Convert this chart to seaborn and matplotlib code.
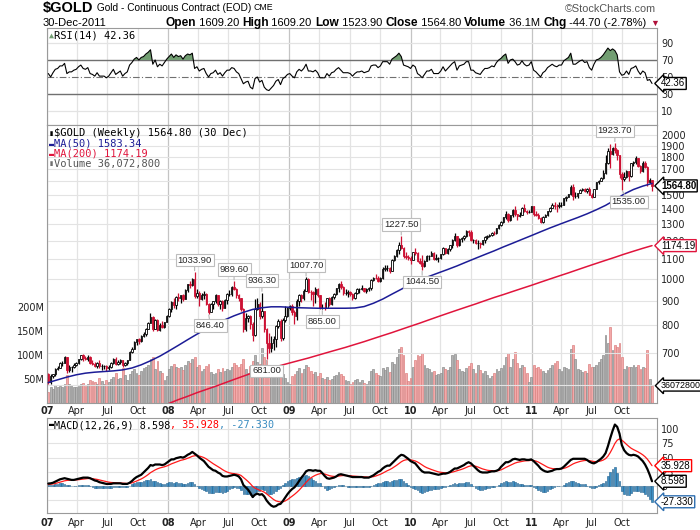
import numpy as np
import pandas as pd
import seaborn as sns
import matplotlib
matplotlib.use("Agg")
import matplotlib.pyplot as plt
from matplotlib.ticker import FixedLocator, NullLocator

# ---- weekly data (Jan 2007 .. Dec 2011) ----
weeks = pd.date_range("2007-01-05", "2011-12-30", freq="W-FRI")
first_open = 632.0

closes = [
    609, 628, 632, 648, 652, 667, 668, 686, 646, 654,
    655, 663, 669, 680, 693, 684, 681, 688, 669, 666,
    659, 669, 657, 657, 657, 651, 656, 667, 682, 665,
    672, 677, 660, 668, 676, 705, 716, 738, 748, 742,
    760, 766, 788, 808, 833, 786, 820, 784, 801, 794,
    813, 838,
    866, 897, 882, 917, 912, 924, 909, 948, 975, 972,
    1002, 920, 937, 908, 926, 930, 886, 855, 886, 898,
    926, 886, 899, 871, 904, 930, 932, 963, 955, 927,
    912, 864, 787, 830, 836, 805, 764, 866, 885, 837,
    858, 785, 736, 718, 735, 750, 798, 816, 752, 823,
    838, 872,
    878, 853, 838, 900, 928, 913, 945, 1002, 941, 940,
    930, 953, 925, 869, 871, 870, 914, 885, 917, 930,
    958, 978, 962, 937, 937, 940, 931, 912, 937, 952,
    954, 956, 946, 953, 956, 995, 1006, 1003, 991, 1004,
    1051, 1052, 1056, 1041, 1096, 1117, 1148, 1180, 1162, 1118,
    1112, 1105,
    1096, 1138, 1131, 1092, 1081, 1065, 1090, 1117, 1118, 1133,
    1103, 1104, 1105, 1126, 1162, 1136, 1158, 1179, 1208, 1229,
    1177, 1213, 1220, 1229, 1257, 1256, 1208, 1209, 1189, 1189,
    1181, 1204, 1226, 1228, 1237, 1247, 1246, 1275, 1297, 1317,
    1346, 1370, 1326, 1358, 1394, 1366, 1352, 1362, 1406, 1385,
    1378, 1380, 1421,
    1369, 1361, 1342, 1318, 1348, 1360, 1388, 1409, 1429, 1421,
    1418, 1428, 1429, 1474, 1486, 1504, 1556, 1491, 1493, 1511,
    1536, 1542, 1529, 1540, 1501, 1485, 1542, 1592, 1602, 1628,
    1663, 1744, 1851, 1827, 1877, 1857, 1813, 1657, 1620, 1636,
    1683, 1642, 1744, 1755, 1788, 1725, 1684, 1744, 1712, 1598,
    1609.5, 1564.8,
]

highs = [
    636, 632, 634, 652, 657, 670, 673, 690, 689, 661,
    659, 667, 672, 682, 694, 697, 690, 693, 691, 678,
    670, 672, 678, 664, 661, 660, 660, 670, 685, 686,
    677, 680, 678, 672, 679, 708, 722, 742, 750, 752,
    763, 776, 790, 815, 848, 838, 827, 825, 808, 816,
    815, 843,
    870, 901, 915, 920, 935, 926, 930, 952, 977, 990,
    1006, 1033.9, 951, 945, 934, 945, 935, 889, 890, 901,
    931, 928, 905, 903, 907, 935, 948, 967, 989.6, 960,
    930, 915, 868, 850, 840, 840, 812, 910, 915, 895,
    936.3, 858, 790, 770, 762, 760, 800, 826, 825, 830,
    880, 875,
    882, 885, 860, 910, 930, 932, 952, 1007.7, 1005, 950,
    945, 962, 960, 928, 888, 895, 915, 916, 920, 934,
    960, 981, 990, 966, 951, 947, 944, 934, 940, 958,
    960, 970, 958, 956, 963, 1000, 1010, 1025, 1016, 1008,
    1062, 1070, 1072, 1062, 1101, 1120, 1155, 1195, 1227.5, 1165,
    1140, 1125,
    1115, 1140, 1163, 1140, 1105, 1120, 1095, 1122, 1125, 1145,
    1138, 1129, 1110, 1130, 1165, 1163, 1160, 1180, 1215, 1250,
    1232, 1217, 1225, 1235, 1263, 1266, 1263, 1215, 1215, 1205,
    1195, 1207, 1229, 1235, 1240, 1255, 1260, 1278, 1300, 1320,
    1350, 1388, 1375, 1362, 1398, 1424, 1370, 1380, 1415, 1432,
    1395, 1392, 1424,
    1424, 1389, 1375, 1345, 1355, 1369, 1390, 1417, 1440, 1445,
    1432, 1448, 1446, 1476, 1490, 1508, 1575, 1577, 1517, 1513,
    1540, 1550, 1550, 1548, 1558, 1510, 1545, 1595, 1610, 1632,
    1685, 1818, 1878, 1912, 1890, 1923.7, 1865, 1813, 1675, 1675,
    1687, 1683, 1750, 1765, 1803, 1791, 1730, 1760, 1760, 1718,
    1629, 1609.5,
]

lows = [
    603, 605, 622, 628, 645, 652, 659, 667, 635, 641,
    640, 651, 658, 666, 678, 675, 677, 674, 664, 660,
    656, 653, 652, 646, 650, 642, 646, 653, 665, 662,
    662, 666, 654, 658, 663, 676, 700, 714, 727, 731,
    738, 756, 760, 786, 808, 778, 785, 780, 778, 789,
    790, 812,
    832, 855, 868, 867, 900, 889, 900, 908, 940, 960,
    967, 912, 915, 878, 903, 910, 882, 846.4, 852, 865,
    892, 877, 865, 858, 869, 885, 920, 923, 950, 912,
    899, 856, 775, 780, 813, 785, 741, 760, 860, 826,
    830, 775, 681, 700, 705, 710, 720, 790, 742, 745,
    815, 832,
    860, 840, 805, 820, 880, 895, 904, 945, 936, 905,
    880, 890, 916, 866, 865, 862, 868, 880, 883, 908,
    925, 940, 955, 926, 925, 917, 921, 905, 910, 932,
    937, 950, 940, 935, 944, 950, 990, 998, 985, 986,
    1002, 1040, 1040, 1030, 1040, 1090, 1110, 1130, 1158, 1105,
    1100, 1095,
    1075, 1095, 1125, 1085, 1075, 1044.5, 1058, 1090, 1095, 1115,
    1097, 1098, 1085, 1103, 1125, 1130, 1130, 1145, 1163, 1200,
    1165, 1170, 1195, 1205, 1225, 1230, 1200, 1190, 1185, 1157,
    1160, 1180, 1190, 1215, 1223, 1232, 1235, 1242, 1270, 1290,
    1310, 1335, 1318, 1320, 1350, 1357, 1330, 1345, 1358, 1380,
    1365, 1372, 1380,
    1354, 1357, 1337, 1309, 1312, 1346, 1357, 1381, 1408, 1400,
    1381, 1410, 1416, 1425, 1452, 1480, 1500, 1462, 1478, 1476,
    1510, 1525, 1520, 1515, 1496, 1478, 1483, 1541, 1576, 1600,
    1620, 1655, 1737, 1702, 1815, 1837, 1769, 1629, 1535, 1600,
    1625, 1604, 1630, 1720, 1740, 1715, 1667, 1675, 1703, 1564,
    1590, 1523.9,
]

# weekly volume, millions
volume_m = [
    22, 33, 30, 38, 34, 36, 33, 40, 58, 40,
    38, 34, 33, 36, 40, 42, 36, 40, 48, 45,
    44, 40, 52, 46, 40, 48, 44, 50, 55, 62,
    50, 52, 72, 58, 48, 60, 66, 70, 62, 58,
    66, 72, 75, 80, 92, 96, 70, 88, 66, 62,
    48, 56,
    70, 78, 82, 76, 72, 74, 68, 80, 88, 84,
    92, 96, 76, 80, 66, 70, 78, 82, 64, 60,
    62, 70, 64, 72, 66, 70, 68, 76, 84, 80,
    74, 82, 92, 70, 62, 78, 88, 100, 86, 82,
    115, 96, 90, 72, 66, 62, 70, 64, 68, 60,
    52, 44,
    40, 56, 60, 66, 72, 62, 70, 80, 74, 66,
    60, 64, 56, 62, 52, 50, 54, 48, 50, 56,
    58, 64, 60, 56, 48, 46, 40, 44, 48, 50,
    44, 48, 42, 40, 46, 66, 70, 62, 58, 56,
    72, 68, 74, 64, 86, 82, 96, 112, 116, 100,
    62, 46,
    52, 76, 90, 100, 98, 104, 80, 72, 70, 64,
    66, 58, 60, 62, 74, 70, 68, 76, 100, 102,
    90, 70, 66, 64, 72, 78, 84, 70, 62, 80,
    68, 62, 66, 58, 52, 56, 62, 70, 66, 72,
    80, 96, 104, 76, 92, 106, 84, 72, 80, 76,
    62, 44, 54,
    80, 72, 76, 70, 66, 62, 68, 72, 80, 84,
    88, 70, 66, 76, 72, 70, 112, 120, 92, 70,
    68, 64, 66, 62, 82, 74, 76, 80, 86, 92,
    100, 141, 126, 158, 110, 120, 116, 124, 96, 70,
    78, 76, 74, 80, 76, 80, 70, 76, 72, 110,
    50, 36.0728,
]

rsi14 = [
    54, 50, 55, 59, 60, 63, 63, 66, 54, 56,
    56, 58, 59, 62, 64, 60, 59, 61, 54, 53,
    51, 55, 51, 51, 51, 49, 51, 55, 59, 53,
    55, 57, 51, 54, 56, 64, 67, 71, 73, 70,
    73, 74, 77, 79, 82, 65, 70, 62, 65, 63,
    67, 71,
    74, 77, 73, 76, 74, 75, 71, 75, 77, 76,
    78, 60, 62, 57, 59, 60, 54, 50, 54, 55,
    58, 53, 55, 51, 55, 58, 58, 61, 60, 56,
    54, 48, 42, 44, 45, 38, 36, 48, 50, 44,
    46, 38, 35, 34, 37, 40, 45, 47, 41, 48,
    50, 53,
    54, 51, 49, 56, 59, 57, 60, 65, 57, 57,
    56, 58, 55, 49, 49, 49, 54, 51, 55, 56,
    59, 61, 58, 55, 55, 55, 54, 51, 54, 56,
    56, 57, 55, 56, 57, 63, 64, 64, 61, 63,
    68, 68, 68, 65, 71, 73, 75, 78, 74, 64,
    63, 62,
    60, 64, 62, 54, 52, 49, 53, 57, 57, 59,
    54, 54, 54, 57, 62, 57, 60, 63, 66, 68,
    58, 63, 64, 65, 68, 68, 58, 58, 55, 54,
    53, 57, 60, 60, 61, 63, 62, 67, 70, 72,
    75, 77, 66, 70, 71, 68, 64, 65, 69, 65,
    63, 64, 68,
    58, 56, 53, 50, 55, 57, 61, 63, 65, 63,
    62, 64, 64, 69, 71, 73, 78, 65, 65, 67,
    69, 70, 67, 68, 61, 58, 65, 70, 71, 73,
    76, 80, 84, 81, 83, 81, 76, 56, 52, 53,
    57, 53, 60, 61, 63, 57, 53, 57, 55, 46,
    47, 42.36,
]

macd_line = [
    4.6, 5, 6, 8, 10, 12, 13, 14, 13, 12,
    11, 11, 12, 13, 14, 15, 15, 15, 14, 12,
    10, 9, 7, 6, 5, 4, 4, 4, 5, 5,
    5, 5, 4, 4, 4, 6, 9, 13, 16, 18,
    20, 24, 28, 32, 37, 36, 38, 38, 38, 37,
    38, 41, 44, 47, 47, 49, 50, 51, 50, 52,
    55, 57, 60, 57, 54, 50, 47, 44, 39, 34,
    31, 28, 27, 24, 22, 18, 17, 17, 18, 19,
    20, 19, 17, 12, 2, -2, -6, -12, -19, -15,
    -13, -15, -14, -18, -25, -30, -34, -36, -35, -32,
    -31, -26, -20, -14, -9, -5, -2, 3, 9, 15,
    20, 26, 28, 28, 27, 28, 27, 27, 23, 18,
    14, 13, 14, 15, 17, 20, 21, 20, 19, 18,
    17, 16, 16, 16, 16, 16, 15, 15, 15, 17,
    19, 22, 25, 27, 31, 34, 36, 36, 40, 44,
    48, 52, 55, 54, 51, 48, 44, 42, 40, 35,
    30, 26, 24, 24, 24, 23, 22, 21, 20, 21,
    22, 22, 23, 25, 28, 31, 31, 33, 35, 37,
    40, 42, 40, 36, 32, 28, 25, 24, 24, 24,
    25, 26, 26, 27, 29, 34, 38, 42, 42, 44,
    47, 48, 47, 46, 47, 47, 46, 46, 47, 44,
    40, 36, 31, 28, 26, 25, 26, 27, 29, 30,
    30, 31, 34, 38, 42, 46, 48, 48, 48, 48,
    48, 48, 46, 43, 41, 40, 42, 45, 48, 52,
    58, 70, 84, 97, 108, 104, 92, 72, 63, 58,
    55, 54, 55, 54, 52, 48, 44, 38, 30, 20,
    8.598,
]

macd_signal = [
    3.0, 3.4, 3.9, 4.7, 5.8, 7.0, 8.2, 9.4, 10.1, 10.5,
    10.6, 10.7, 11.0, 11.4, 11.9, 12.5, 13.0, 13.4, 13.5, 13.2,
    12.6, 11.9, 10.9, 9.9, 8.9, 7.9, 7.1, 6.5, 6.2, 6.0,
    5.8, 5.6, 5.3, 5.0, 4.8, 5.0, 5.8, 7.3, 9.0, 10.8,
    12.6, 14.9, 17.5, 20.4, 23.7, 26.2, 28.5, 30.4, 31.9, 32.9,
    34.0, 35.4, 37.1, 39.1, 40.7, 42.3, 43.9, 45.3, 46.2, 47.4,
    48.9, 50.5, 52.4, 53.3, 53.5, 52.8, 51.6, 50.1, 47.9, 45.1,
    42.3, 39.4, 37.0, 34.4, 31.9, 29.1, 26.7, 24.8, 23.4, 22.5,
    22.0, 21.4, 20.5, 18.8, 15.4, 11.9, 8.3, 4.3, -0.4, -3.3,
    -5.3, -7.2, -8.6, -10.5, -13.4, -16.7, -20.2, -23.3, -25.7, -26.9,
    -27.7, -27.4, -25.9, -23.5, -20.6, -17.5, -14.4, -10.9, -7.0, -2.6,
    1.9, 6.7, 11.0, 14.4, 16.9, 19.1, 20.7, 22.0, 22.2, 21.3,
    19.9, 18.5, 17.6, 17.1, 17.1, 17.7, 18.3, 18.7, 18.7, 18.6,
    18.3, 17.8, 17.5, 17.2, 16.9, 16.8, 16.4, 16.1, 15.9, 16.1,
    16.7, 17.8, 19.2, 20.8, 22.8, 25.1, 27.2, 29.0, 31.2, 33.8,
    36.6, 39.7, 42.7, 45.0, 46.2, 46.6, 46.1, 45.3, 44.2, 42.4,
    39.9, 37.1, 34.5, 32.4, 30.7, 29.2, 27.7, 26.4, 25.1, 24.3,
    23.8, 23.5, 23.4, 23.7, 24.6, 25.8, 26.9, 28.1, 29.5, 31.0,
    32.8, 34.6, 35.7, 35.8, 35.0, 33.6, 31.9, 30.3, 29.1, 28.0,
    27.4, 27.2, 26.9, 26.9, 27.4, 28.7, 30.6, 32.8, 34.7, 36.5,
    38.6, 40.5, 41.8, 42.6, 43.5, 44.2, 44.6, 44.8, 45.3, 45.0,
    44.0, 42.4, 40.1, 37.7, 35.4, 33.3, 31.8, 30.9, 30.5, 30.4,
    30.3, 30.5, 31.2, 32.5, 34.4, 36.7, 39.0, 40.8, 42.2, 43.4,
    44.3, 45.0, 45.2, 44.8, 44.0, 43.2, 43.0, 43.4, 44.3, 45.8,
    48.3, 52.6, 58.9, 66.5, 74.8, 80.6, 82.9, 80.7, 77.2, 73.3,
    69.7, 66.5, 64.2, 62.2, 60.1, 57.7, 55.0, 51.6, 47.3, 41.8,
    35.928,
]

# moving averages, read every 4th week
ma_dates = weeks[::4]
ma50 = [
    608, 616, 624, 631, 636, 639, 641, 643, 646, 652,
    662, 675, 690, 708, 727, 747, 767, 787, 805, 822,
    838, 852, 864, 871, 875, 875, 873, 871, 870, 869,
    869, 869, 869, 870, 876, 890, 908, 930, 952, 975,
    995, 1013, 1030, 1047, 1065, 1085, 1105, 1125, 1145, 1167,
    1188, 1210, 1232, 1255, 1278, 1300, 1322, 1344, 1368, 1395,
    1425, 1462, 1505, 1538, 1563, 1583.34,
]
ma200 = [
    np.nan, np.nan, np.nan, np.nan, np.nan, np.nan, np.nan, np.nan, np.nan, np.nan,
    525, 533, 541, 550, 560, 569, 579, 588, 597, 607,
    617, 627, 637, 645, 652, 660, 668, 676, 684, 693,
    702, 711, 720, 730, 740, 751, 762, 773, 785, 797,
    809, 822, 835, 848, 861, 874, 887, 901, 915, 928,
    942, 956, 970, 985, 1000, 1015, 1030, 1046, 1062, 1078,
    1094, 1110, 1127, 1143, 1159, 1174.19,
]

# swing labels: (week index, label)
peak_labels = [(63, "1033.90"), (80, "989.60"), (92, "936.30"),
               (111, "1007.70"), (152, "1227.50"), (244, "1923.70")]
trough_labels = [(69, "846.40"), (94, "681.00"), (118, "865.00"),
                 (161, "1044.50"), (247, "1535.00")]

for arr in (closes, highs, lows, volume_m, rsi14, macd_line, macd_signal):
    assert len(arr) == len(weeks), len(arr)

# ---- derived columns ----
c = np.array(closes, float)
o = np.array([first_open] + closes[:-1], float)
hi = np.array(highs, float)
lo = np.array(lows, float)
vol = np.array(volume_m) * 1e6
rsi = np.array(rsi14, float)
macd = np.array(macd_line, float)
sig = np.array(macd_signal, float)
hist = macd - sig

RED = "#cc1133"
BLUE = "#1c1c96"
MA_RED = "#e0143c"
GRID = "#e3e3e3"
YEARGRID = "#c4c4c4"
SPINE = "#9a9a9a"
HIST = "#3d8fc4"
GREEN = "#729e72"
MONO = ["DejaVu Sans Mono", "DejaVu Sans"]
ARIAL = ["Liberation Sans", "DejaVu Sans"]

sns.set_theme(style="white")
plt.rcParams["font.family"] = ["DejaVu Sans"]
plt.rcParams["axes.linewidth"] = 0.8

W, H = 700, 530
fig = plt.figure(figsize=(7, 5.3), dpi=100)
fig.patch.set_facecolor("white")


def panel(top, bottom):
    return fig.add_axes([47 / W, 1 - bottom / H, 610 / W, (bottom - top) / H])


ax_rsi = panel(28, 125)
ax_vol = panel(125, 403)
ax_px = panel(125, 403)
ax_px.patch.set_visible(False)
ax_macd = panel(418, 513)

x0, x1 = pd.Timestamp("2007-01-01"), pd.Timestamp("2012-01-14")
quarters = pd.date_range("2007-01-01", "2011-10-01", freq="QS")
qlabels = [f"{d.year % 100:02d}" if d.month == 1 else d.strftime("%b") for d in quarters]

for ax in (ax_rsi, ax_vol, ax_px, ax_macd):
    ax.set_xlim(x0, x1)
    ax.set_xticks(quarters)
    ax.set_xticklabels(qlabels)
    ax.tick_params(length=0, labelsize=7, labelcolor="#222222")
    for sp in ax.spines.values():
        sp.set_color(SPINE)
        sp.set_linewidth(0.8)
    if ax is not ax_px:
        for d in quarters:
            ax.axvline(d, color=YEARGRID if d.month == 1 else GRID, lw=0.9, zorder=0)

for ax in (ax_rsi, ax_vol):
    ax.tick_params(axis="x", labelbottom=False)
for ax in (ax_px, ax_macd):
    ax.tick_params(axis="x", labelbottom=True, pad=2.5)
    for lab in ax.get_xticklabels():
        if lab.get_text().isdigit():
            lab.set_fontweight("bold")
for sp in ax_vol.spines.values():
    sp.set_visible(False)

# ---- RSI panel ----
ax_rsi.set_ylim(-6.5, 107.6)
ax_rsi.yaxis.tick_right()
ax_rsi.set_yticks([10, 30, 50, 70, 90])
ax_rsi.tick_params(axis="y", pad=3)
for lvl in (10, 90):
    ax_rsi.axhline(lvl, color=GRID, lw=0.9, zorder=0)
for lvl in (30, 70):
    ax_rsi.axhline(lvl, color="#707070", lw=1.0, zorder=1)
ax_rsi.axhline(50, color="#707070", lw=0.8, dashes=(6, 2, 1, 2), zorder=1)
ax_rsi.fill_between(weeks, rsi, 70, where=rsi >= 70, interpolate=True,
                    color=GREEN, lw=0, zorder=2)
sns.lineplot(x=weeks, y=rsi, ax=ax_rsi, color="black", lw=0.8, zorder=3)

# ---- volume (left scale) ----
vup = c >= o
ax_vol.bar(weeks, vol, width=5.5, color=np.where(vup, "#b3b3b3", "#f3a9a9"),
           edgecolor=np.where(vup, "#8e8e8e", "#dc8282"), linewidth=0.5, zorder=2)
ax_vol.set_ylim(0, 579e6)
ax_vol.set_yticks([50e6, 100e6, 150e6, 200e6])
ax_vol.set_yticklabels(["50M", "100M", "150M", "200M"])
ax_vol.tick_params(axis="y", pad=2)

# ---- price panel ----
ax_px.set_yscale("log")
ax_px.set_ylim(551, 2097)
pticks = [600, 700, 800, 900, 1000, 1100, 1200, 1300, 1400, 1500, 1600, 1700, 1800, 1900, 2000]
hidden = {600, 1600}  # covered by the value tags on the reference
ax_px.yaxis.set_major_locator(FixedLocator(pticks))
ax_px.yaxis.set_minor_locator(NullLocator())
ax_px.set_yticklabels(["" if p in hidden else str(p) for p in pticks])
ax_px.yaxis.tick_right()
ax_px.tick_params(axis="y", pad=3, length=0)
ax_px.set_axisbelow(True)
ax_px.grid(axis="y", color=GRID, lw=0.8)

up = c >= o
edge = np.where(up, "black", RED)
face = np.where(c > o, "white", edge)
ax_px.vlines(weeks, lo, hi, colors=edge, lw=0.9, zorder=3)
ax_px.bar(weeks, np.abs(c - o), bottom=np.minimum(o, c), width=4.2,
          color=face, edgecolor=edge, linewidth=0.6, zorder=4)
sns.lineplot(x=ma_dates, y=ma50, ax=ax_px, color=BLUE, lw=1.1, zorder=5)
sns.lineplot(x=ma_dates, y=ma200, ax=ax_px, color=MA_RED, lw=1.1, zorder=5)

nudge = {"1535.00": 7, "846.40": 2}
box = dict(boxstyle="square,pad=0.2", fc="white", ec="#bdbdbd", lw=0.8)
arrow = dict(arrowstyle="-", color="#b5b5b5", lw=0.8, shrinkA=0, shrinkB=1)
for i, lab in peak_labels:
    ax_px.annotate(lab, xy=(weeks[i], hi[i]), xytext=(nudge.get(lab, 0), 12),
                   textcoords="offset pixels", ha="center", va="center",
                   fontsize=6.8, family=ARIAL, bbox=box, arrowprops=arrow, zorder=7)
for i, lab in trough_labels:
    ax_px.annotate(lab, xy=(weeks[i], lo[i]), xytext=(nudge.get(lab, 0), -12),
                   textcoords="offset pixels", ha="center", va="center",
                   fontsize=6.8, family=ARIAL, bbox=box, arrowprops=arrow, zorder=7)

# ---- MACD panel ----
ax_macd.set_ylim(-47, 119.5)
ax_macd.yaxis.tick_right()
ax_macd.set_yticks([-25, 0, 25, 50, 75, 100])
ax_macd.set_yticklabels(["", "0", "25", "50", "75", "100"])
ax_macd.tick_params(axis="y", pad=3)
ax_macd.tick_params(axis="x", pad=3.5)
ax_macd.set_axisbelow(True)
ax_macd.grid(axis="y", color=GRID, lw=0.8)
ax_macd.bar(weeks, hist, width=5, color=HIST, edgecolor="#205f8c", linewidth=0.4, zorder=2)
sns.lineplot(x=weeks, y=sig, ax=ax_macd, color="#ff1a1a", lw=0.9, zorder=3)
sns.lineplot(x=weeks, y=macd, ax=ax_macd, color="black", lw=1.6, zorder=4)

for ax in (ax_rsi, ax_vol, ax_px, ax_macd):
    ax.set_xlabel("")
    ax.set_ylabel("")


# ---- right-hand value tags ----
def tag(ax, yval, text, ec, weight="normal", ycoords="data", size=7):
    ax.annotate(text, xy=(1, yval), xycoords=("axes fraction", ycoords),
                xytext=(4, 0), textcoords="offset pixels", ha="left", va="center",
                fontsize=size, fontweight=weight, color="black", family=ARIAL,
                annotation_clip=False, zorder=10,
                bbox=dict(boxstyle="larrow,pad=0.1", fc="white", ec=ec, lw=1.0))


tag(ax_rsi, rsi[-1], f"{rsi[-1]:.2f}", "black")
tag(ax_px, c[-1], f"{c[-1]:.2f}", "black", weight="bold")
tag(ax_px, ma200[-1], f"{ma200[-1]:.2f}", MA_RED)
tag(ax_px, vol[-1], f"{vol[-1]:.0f}", "black", ycoords=ax_vol.transData, size=6.4)
tag(ax_macd, sig[-1], f"{sig[-1]:.3f}", "red")
tag(ax_macd, macd[-1], f"{macd[-1]:.3f}", "black")
tag(ax_macd, hist[-1], f"{hist[-1]:.3f}", "#2f6fb0")


# ---- legends and header: pieces chained left to right ----
def chain(ax, dx, dy, parts, size, family):
    s, col, wt, sz = parts[0]
    t = ax.annotate(s, xy=(0, 1), xycoords="axes fraction", xytext=(dx, -dy),
                    textcoords="offset pixels", ha="left", va="center", color=col,
                    fontweight=wt, fontsize=sz or size, family=family,
                    annotation_clip=False, zorder=9)
    for s, col, wt, sz in parts[1:]:
        t = ax.annotate(s, xy=(1, 0.5), xycoords=t, ha="left", va="center", color=col,
                        fontweight=wt, fontsize=sz or size, family=family,
                        annotation_clip=False, zorder=9)
    return t


chain(ax_rsi, 2, 7, [("▲", GREEN, "normal", 6), ("RSI(14) 42.36", "black", "normal", None)], 7.5, MONO)
chain(ax_px, 2, 8, [("▮", "black", "normal", 6), ("$GOLD (Weekly) 1564.80 (30 Dec)", "black", "normal", None)], 7.5, MONO)
chain(ax_px, 2, 19, [("▬", BLUE, "normal", 6), ("MA(50) 1583.34", BLUE, "normal", None)], 7.5, MONO)
chain(ax_px, 2, 29, [("▬", MA_RED, "normal", 6), ("MA(200) 1174.19", MA_RED, "normal", None)], 7.5, MONO)
chain(ax_px, 2, 39, [("▮", "#707070", "normal", 6), ("Volume 36,072,800", "#555555", "normal", None)], 7.5, MONO)
chain(ax_macd, 2, 7, [("▬", "black", "normal", 6), ("MACD(12,26,9) 8.598", "black", "normal", None),
                      (", 35.928", "red", "normal", None), (", -27.330", "#3a8cc0", "normal", None)], 7.3, MONO)

hdr = fig.add_axes([0, 0, 1, 1])
hdr.patch.set_visible(False)
hdr.axis("off")
chain(hdr, 43, 8, [("$GOLD", "black", "bold", 10.5), (" Gold - Continuous Contract (EOD) ", "black", "normal", 7.3),
                   ("CME", "black", "normal", 6.3)], 8, ARIAL)
chain(hdr, 43, 23, [("30-Dec-2011", "black", "normal", 8)], 8, ARIAL)
chain(hdr, 165, 23, [("Open", "black", "bold", 8.6), (" 1609.20 ", "black", "normal", 8),
                     ("High", "black", "bold", 8.6), (" 1609.20 ", "black", "normal", 8),
                     ("Low", "black", "bold", 8.6), (" 1523.90 ", "black", "normal", 8),
                     ("Close", "black", "bold", 8.6), (" 1564.80 ", "black", "normal", 8),
                     ("Volume", "black", "bold", 8.6), (" 36.1M ", "black", "normal", 8),
                     ("Chg", "black", "bold", 8.6), (" -44.70 (-2.78%) ", "black", "normal", 8),
                     ("▼", "#b0103a", "normal", 6.5)], 8, ARIAL)
hdr.annotate("©StockCharts.com", xy=(0, 1), xycoords="axes fraction", xytext=(656, -9),
             textcoords="offset pixels", ha="right", va="center", fontsize=7.8,
             color="#555555", family=ARIAL)

fig.savefig("out.png", dpi=100)
